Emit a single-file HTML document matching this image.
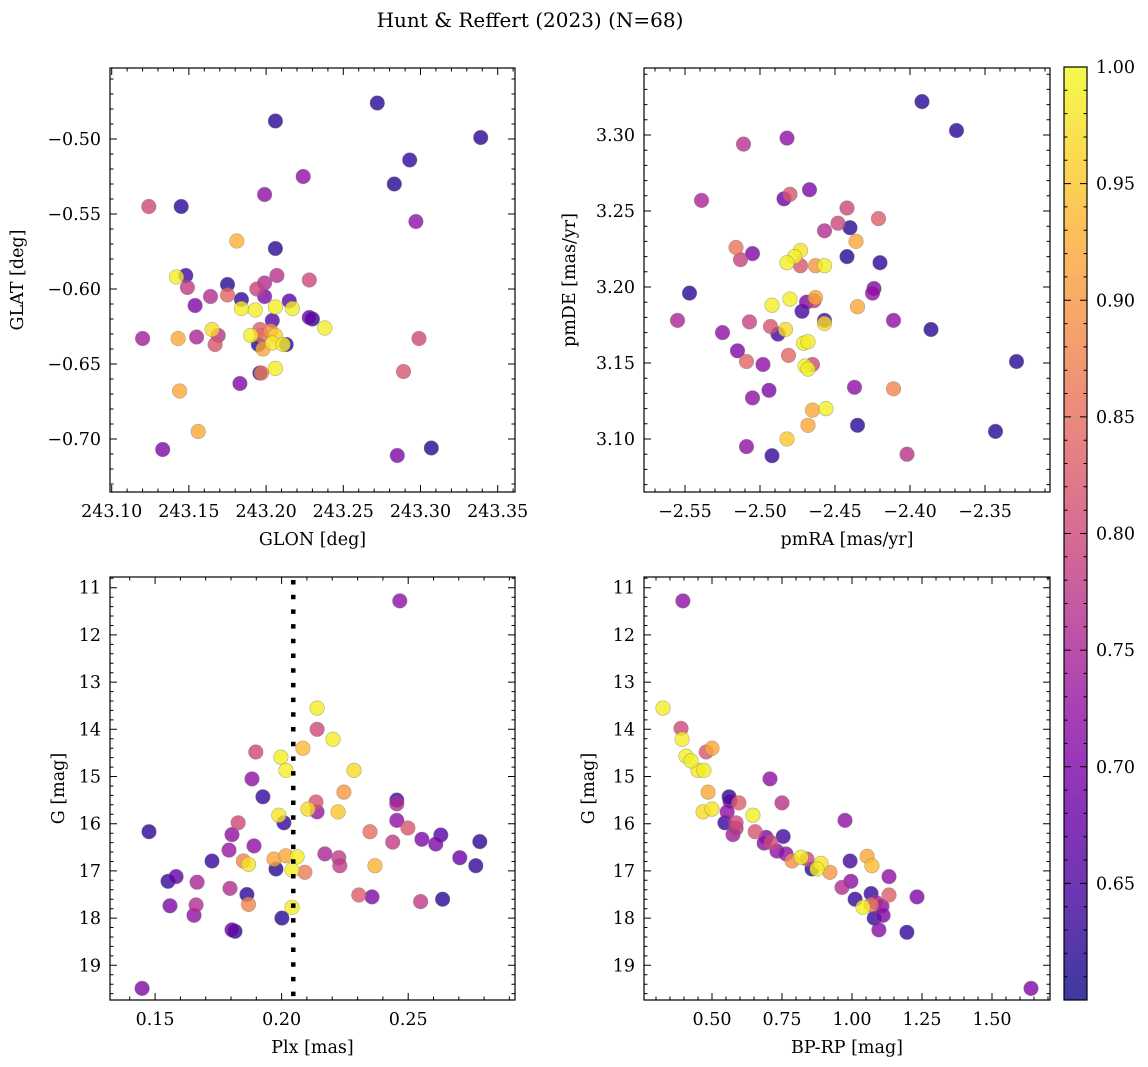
<!DOCTYPE html>
<html><head><meta charset="utf-8"><style>
html,body{margin:0;padding:0;background:#fff;}
svg{display:block;font-family:"DejaVu Serif","Liberation Serif",serif;}
</style></head><body>
<svg id="fig" width="1148" height="1067" viewBox="0 0 1148 1067" xmlns="http://www.w3.org/2000/svg">
<text x="530" y="27" font-size="20" text-anchor="middle">Hunt &amp; Reffert (2023) (N=68)</text>
</svg>
<script>
// ---- data (one entry per star) ----
const p1Glon=[243.272,243.206,243.339,243.293,243.224,243.283,243.199,243.124,243.145,243.297,243.181,243.206,243.148,243.142,243.207,243.199,243.228,243.149,243.175,243.194,243.164,243.175,243.184,243.199,243.154,243.215,243.184,243.193,243.206,243.217,243.228,243.230,243.204,243.238,243.120,243.143,243.155,243.165,243.169,243.167,243.196,243.197,243.190,243.203,243.206,243.195,243.204,243.211,243.213,243.198,243.299,243.196,243.197,243.206,243.183,243.289,243.144,243.156,243.133,243.285,243.307];
const p1Glat=[-0.476,-0.488,-0.499,-0.514,-0.525,-0.530,-0.537,-0.545,-0.545,-0.555,-0.568,-0.573,-0.591,-0.592,-0.591,-0.596,-0.594,-0.599,-0.597,-0.600,-0.605,-0.604,-0.607,-0.605,-0.611,-0.608,-0.613,-0.614,-0.612,-0.613,-0.619,-0.620,-0.621,-0.626,-0.633,-0.633,-0.632,-0.627,-0.631,-0.637,-0.627,-0.631,-0.631,-0.628,-0.631,-0.637,-0.636,-0.637,-0.637,-0.640,-0.633,-0.656,-0.656,-0.653,-0.663,-0.655,-0.668,-0.695,-0.707,-0.711,-0.706];
const p1Prob=[0.62,0.62,0.62,0.63,0.72,0.62,0.72,0.80,0.62,0.72,0.93,0.62,0.64,0.99,0.77,0.76,0.80,0.78,0.62,0.79,0.76,0.84,0.63,0.70,0.70,0.66,0.99,0.99,0.99,0.99,0.68,0.62,0.66,0.99,0.74,0.92,0.75,0.97,0.77,0.82,0.83,0.85,0.99,0.90,0.96,0.62,0.98,0.99,0.62,0.92,0.80,0.62,0.87,0.99,0.70,0.82,0.92,0.92,0.70,0.70,0.62];

const p2Pmra=[-2.392,-2.369,-2.482,-2.511,-2.467,-2.484,-2.480,-2.539,-2.442,-2.421,-2.448,-2.440,-2.457,-2.436,-2.516,-2.505,-2.473,-2.477,-2.513,-2.482,-2.473,-2.463,-2.457,-2.442,-2.420,-2.547,-2.555,-2.424,-2.425,-2.480,-2.492,-2.469,-2.464,-2.463,-2.472,-2.435,-2.457,-2.457,-2.411,-2.507,-2.493,-2.488,-2.483,-2.525,-2.386,-2.515,-2.509,-2.498,-2.481,-2.471,-2.468,-2.470,-2.468,-2.465,-2.329,-2.437,-2.411,-2.494,-2.505,-2.465,-2.456,-2.468,-2.435,-2.343,-2.482,-2.509,-2.492,-2.402];
const p2Pmde=[3.322,3.303,3.298,3.294,3.264,3.258,3.261,3.257,3.252,3.245,3.242,3.239,3.237,3.230,3.226,3.222,3.224,3.220,3.218,3.216,3.214,3.214,3.214,3.220,3.216,3.196,3.178,3.199,3.196,3.192,3.188,3.190,3.191,3.193,3.184,3.187,3.178,3.176,3.178,3.177,3.174,3.169,3.172,3.170,3.172,3.158,3.151,3.149,3.155,3.163,3.164,3.148,3.146,3.149,3.151,3.134,3.133,3.132,3.127,3.119,3.120,3.109,3.109,3.105,3.100,3.095,3.089,3.090];
const p2Prob=[0.62,0.62,0.72,0.77,0.70,0.68,0.82,0.75,0.80,0.83,0.80,0.62,0.76,0.92,0.86,0.70,0.98,0.99,0.79,0.99,0.82,0.90,0.99,0.62,0.62,0.62,0.75,0.70,0.72,0.99,0.99,0.70,0.78,0.92,0.64,0.92,0.64,0.97,0.72,0.79,0.82,0.64,0.97,0.72,0.62,0.70,0.84,0.72,0.84,0.99,0.99,0.99,0.99,0.80,0.62,0.72,0.88,0.70,0.72,0.92,0.99,0.92,0.62,0.62,0.95,0.72,0.63,0.77];

const p3Plx=[0.2467,0.2140,0.2140,0.2203,0.2084,0.1898,0.1997,0.2017,0.2286,0.1883,0.1926,0.2246,0.2455,0.2455,0.2136,0.2140,0.2104,0.2223,0.1989,0.2009,0.2455,0.1828,0.1476,0.2499,0.2349,0.1804,0.2783,0.2554,0.2629,0.2609,0.2439,0.1891,0.1792,0.1725,0.2171,0.2226,0.2230,0.2704,0.2767,0.1849,0.1869,0.1970,0.2017,0.2061,0.1978,0.2041,0.2092,0.2369,0.1583,0.1551,0.1666,0.1796,0.1863,0.1869,0.2305,0.2357,0.2549,0.2636,0.1559,0.1662,0.1654,0.2041,0.2001,0.1804,0.1816,0.1449];
const p3G=[11.28,13.55,14.00,14.21,14.40,14.48,14.59,14.87,14.87,15.05,15.43,15.33,15.50,15.58,15.54,15.75,15.69,15.75,15.82,15.98,15.93,15.98,16.17,16.09,16.17,16.23,16.38,16.33,16.24,16.43,16.39,16.47,16.56,16.79,16.64,16.72,16.89,16.72,16.89,16.79,16.86,16.75,16.68,16.70,16.96,16.98,17.03,16.89,17.12,17.22,17.24,17.37,17.50,17.71,17.51,17.55,17.65,17.60,17.74,17.72,17.94,17.77,18.00,18.25,18.28,19.49];
const p3Prob=[0.72,0.99,0.80,0.99,0.94,0.80,0.99,0.99,0.97,0.72,0.63,0.90,0.64,0.76,0.82,0.73,0.97,0.95,0.98,0.63,0.72,0.80,0.62,0.82,0.85,0.72,0.62,0.70,0.66,0.70,0.78,0.72,0.73,0.63,0.75,0.78,0.78,0.68,0.63,0.88,0.98,0.92,0.92,0.99,0.62,0.99,0.87,0.93,0.67,0.63,0.75,0.76,0.62,0.88,0.83,0.70,0.78,0.62,0.70,0.76,0.72,0.99,0.62,0.68,0.62,0.70];

const p4Bprp=[0.396,0.325,0.389,0.393,0.479,0.500,0.407,0.425,0.450,0.471,0.707,0.486,0.561,0.564,0.596,0.750,0.468,0.500,0.554,0.646,0.975,0.546,0.586,0.586,0.575,0.654,0.754,0.693,0.686,0.711,0.732,0.764,0.786,0.818,0.839,0.993,1.054,1.071,0.857,0.889,0.875,0.921,1.132,0.996,0.964,1.068,1.132,1.232,1.011,1.086,1.068,1.039,1.107,1.079,1.111,1.096,1.196,1.639];
const p4G=[11.28,13.55,13.98,14.21,14.48,14.40,14.57,14.67,14.87,14.87,15.05,15.33,15.43,15.52,15.56,15.56,15.75,15.69,15.75,15.82,15.93,15.98,15.98,16.10,16.23,16.17,16.27,16.29,16.41,16.40,16.58,16.64,16.79,16.71,16.75,16.79,16.69,16.89,16.96,16.84,16.96,17.03,17.12,17.22,17.35,17.48,17.51,17.55,17.60,17.67,17.72,17.77,17.75,18.00,17.94,18.25,18.30,19.49];
const p4Prob=[0.72,0.99,0.80,0.99,0.82,0.92,0.99,0.99,0.98,0.99,0.72,0.92,0.62,0.66,0.83,0.77,0.97,0.98,0.72,0.99,0.72,0.63,0.80,0.77,0.74,0.82,0.64,0.70,0.72,0.80,0.72,0.72,0.89,0.99,0.80,0.64,0.92,0.94,0.62,0.98,0.99,0.90,0.72,0.72,0.76,0.63,0.83,0.70,0.63,0.75,0.86,0.99,0.72,0.63,0.70,0.71,0.63,0.70];

const p3ParallaxLine=[0.2046];
const gTicks=[11,12,13,14,15,16,17,18,19];
const cbTicks=[0.65,0.70,0.75,0.80,0.85,0.90,0.95,1.00];

const VMIN=0.600, VMAX=1.0;
const FS=17.5;
const NS="http://www.w3.org/2000/svg";
const svg=document.getElementById('fig');
const plasma=[[13,8,135],[65,4,157],[106,0,168],[143,13,164],[177,42,144],[204,71,120],[225,100,98],[242,132,75],[252,166,54],[252,206,37],[240,249,33]];
function cmap(v){
  let t=(v-VMIN)/(VMAX-VMIN); t=Math.max(0,Math.min(1,t))*10;
  const i=Math.min(9,Math.floor(t)), f=t-i, a=plasma[i], b=plasma[i+1];
  return 'rgb('+[0,1,2].map(k=>Math.round(a[k]+(b[k]-a[k])*f)).join(',')+')';
}
function el(tag,attrs,parent){const e=document.createElementNS(NS,tag);for(const k in attrs)e.setAttribute(k,attrs[k]);(parent||svg).appendChild(e);return e;}
function fmt(v,d){const s=Math.abs(v).toFixed(d);return (v<-1e-9?'\u2212':'')+s;}

function panel(c){
  const g=el('g',{});
  
  
  const inv=!!c.yinv;
  const sx=v=>c.x0+(v-c.xmin)/(c.xmax-c.xmin)*(c.x1-c.x0);
  const sy=inv?(v=>c.y0+(v-c.ymin)/(c.ymax-c.ymin)*(c.y1-c.y0)):(v=>c.y1-(v-c.ymin)/(c.ymax-c.ymin)*(c.y1-c.y0));
  const idx=c.xs.map((_,i)=>i).sort((a,b)=>c.ps[a]-c.ps[b]);
  const pg=el('g',{},g);
  
  
  idx.forEach(i=>{
    const p=el('circle',{cx:sx(c.xs[i]).toFixed(1),cy:sy(c.ys[i]).toFixed(1),r:7.3,fill:cmap(c.ps[i]),'fill-opacity':0.8,stroke:'#777','stroke-opacity':0.55,'stroke-width':0.6},pg);
    
    
  });
  if(c.vline){c.vline.forEach(v=>{
    const l=el('line',{x1:sx(v),x2:sx(v),y1:c.y0+3,y2:c.y1,stroke:'#000','stroke-width':4.5,'stroke-dasharray':'4.5 10.2'},g);
    
    
  });}
  const fr=el('rect',{x:c.x0,y:c.y0,width:c.x1-c.x0,height:c.y1-c.y0,fill:'none',stroke:'#000','stroke-width':1.2},g);
  
  
  const tk=[];
  for(let v=c.xminor0;v<=c.xmax+1e-9;v+=c.xminorStep){if(v>=c.xmin){const X=sx(v);tk.push([X,c.y1,X,c.y1-3.5],[X,c.y0,X,c.y0+3.5]);}}
  for(let v=c.yminor0;v<=c.ymax+1e-9;v+=c.yminorStep){if(v>=c.ymin){const Y=sy(v);tk.push([c.x0,Y,c.x0+3.5,Y],[c.x1,Y,c.x1-3.5,Y]);}}
  c.xt.forEach(v=>{const X=sx(v);tk.push([X,c.y1,X,c.y1-7],[X,c.y0,X,c.y0+7]);
    const t=el('text',{x:X,y:c.y1+25,'font-size':FS,'text-anchor':'middle'},g);t.textContent=fmt(v,c.xd);
    });
  c.yt.forEach(v=>{const Y=sy(v);tk.push([c.x0,Y,c.x0+7,Y],[c.x1,Y,c.x1-7,Y]);
    const t=el('text',{x:c.x0-9,y:Y+6,'font-size':FS,'text-anchor':'end'},g);t.textContent=fmt(v,c.yd);
    });
  const d=tk.map(a=>'M'+a[0].toFixed(1)+' '+a[1].toFixed(1)+'L'+a[2].toFixed(1)+' '+a[3].toFixed(1)).join('');
  const tp=el('path',{d:d,stroke:'#000','stroke-width':1,fill:'none'},g);
  
  const xl=el('text',{x:(c.x0+c.x1)/2,y:c.y1+53,'font-size':FS,'text-anchor':'middle'},g);xl.textContent=c.xlabel;
  
  const yl=el('text',{x:c.ylx,y:(c.y0+c.y1)/2,'font-size':FS,'text-anchor':'middle',transform:'rotate(-90 '+c.ylx+' '+(c.y0+c.y1)/2+')'},g);yl.textContent=c.ylabel;
  
}

panel({name:'glon-glat-panel',x0:110,x1:515,y0:68,y1:492,xmin:243.0989,xmax:243.3612,ymin:-0.7353,ymax:-0.4527,
  xs:p1Glon,ys:p1Glat,ps:p1Prob,xt:[243.10,243.15,243.20,243.25,243.30,243.35],xd:2,yt:[-0.70,-0.65,-0.60,-0.55,-0.50],yd:2,
  xminor0:243.10,xminorStep:0.01,yminor0:-0.73,yminorStep:0.01,xlabel:'GLON [deg]',ylabel:'GLAT [deg]',ylx:23});
panel({name:'proper-motion-panel',x0:644,x1:1050,y0:68,y1:492,xmin:-2.5773,xmax:-2.3067,ymin:3.0651,ymax:3.3441,
  xs:p2Pmra,ys:p2Pmde,ps:p2Prob,xt:[-2.55,-2.50,-2.45,-2.40,-2.35],xd:2,yt:[3.10,3.15,3.20,3.25,3.30],yd:2,
  xminor0:-2.57,xminorStep:0.01,yminor0:3.07,yminorStep:0.01,xlabel:'pmRA [mas/yr]',ylabel:'pmDE [mas/yr]',ylx:575});
panel({name:'parallax-magnitude-panel',x0:110,x1:515,y0:577,y1:1000,xmin:0.1322,xmax:0.2922,ymin:10.773,ymax:19.735,yinv:true,
  xs:p3Plx,ys:p3G,ps:p3Prob,xt:[0.15,0.20,0.25],xd:2,yt:gTicks,yd:0,
  xminor0:0.14,xminorStep:0.01,yminor0:10.8,yminorStep:0.2,xlabel:'Plx [mas]',ylabel:'G [mag]',ylx:64,vline:p3ParallaxLine});
panel({name:'color-magnitude-panel',x0:644,x1:1050,y0:577,y1:1000,xmin:0.257,xmax:1.707,ymin:10.773,ymax:19.735,yinv:true,
  xs:p4Bprp,ys:p4G,ps:p4Prob,xt:[0.50,0.75,1.00,1.25,1.50],xd:2,yt:gTicks,yd:0,
  xminor0:0.30,xminorStep:0.05,yminor0:10.8,yminorStep:0.2,xlabel:'BP-RP [mag]',ylabel:'G [mag]',ylx:594});

(function(){
  const x0=1064,x1=1087,y0=67,y1=1000;
  const g=el('g',{});
  
  
  const defs=el('defs',{},g);
  const lg=el('linearGradient',{id:'cbg',x1:0,y1:1,x2:0,y2:0},defs);
  for(let i=0;i<=20;i++){const v=VMIN+(VMAX-VMIN)*i/20;el('stop',{offset:(i/20),'stop-color':cmap(v),'stop-opacity':0.8},lg);}
  const r=el('rect',{x:x0,y:y0,width:x1-x0,height:y1-y0,fill:'url(#cbg)',stroke:'#000','stroke-width':1.2},g);
  
  const sy=v=>y1-(v-VMIN)/(VMAX-VMIN)*(y1-y0);
  let d='';
  for(let v=0.61;v<=1.0001;v+=0.01){const Y=sy(v);d+='M'+x1+' '+Y.toFixed(1)+'L'+(x1-3.5)+' '+Y.toFixed(1)+'M'+x0+' '+Y.toFixed(1)+'L'+(x0+3.5)+' '+Y.toFixed(1);}
  cbTicks.forEach(v=>{const Y=sy(v);d+='M'+x1+' '+Y.toFixed(1)+'L'+(x1-7)+' '+Y.toFixed(1)+'M'+x0+' '+Y.toFixed(1)+'L'+(x0+7)+' '+Y.toFixed(1);
    const t=el('text',{x:x1+9,y:Y+6,'font-size':FS},g);t.textContent=v.toFixed(2);
    });
  const p=el('path',{d:d,stroke:'#000','stroke-width':1,fill:'none'},g);
  
})();
</script>
</body></html>
